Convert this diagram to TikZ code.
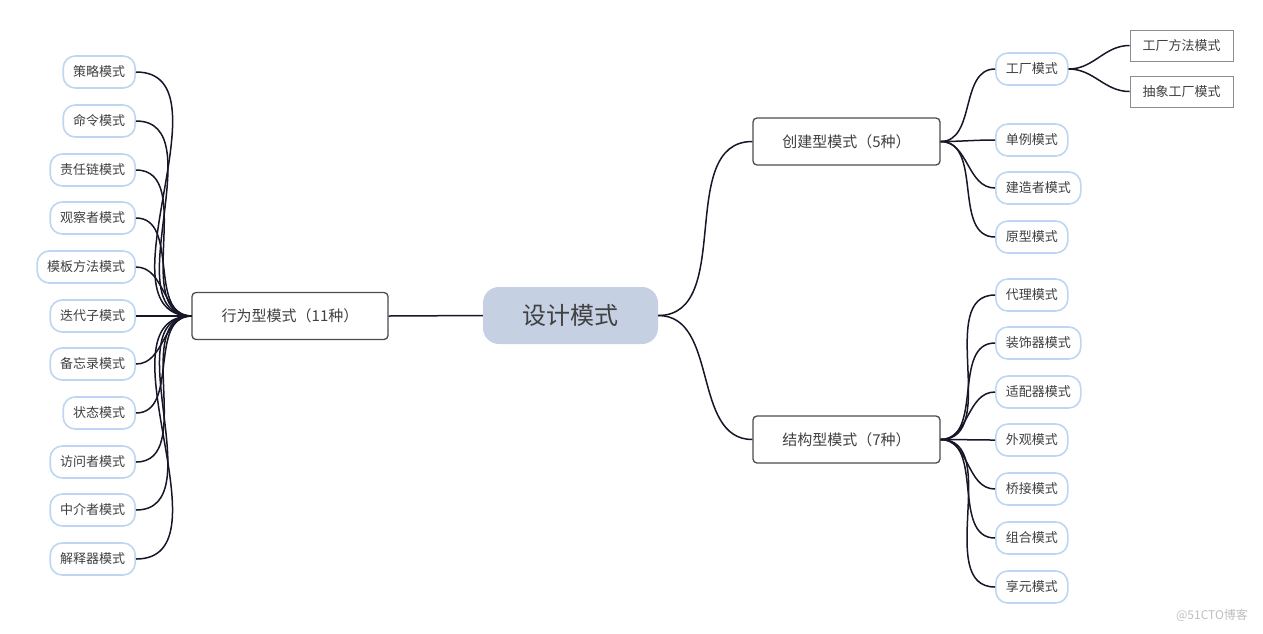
\documentclass[tikz,border=0pt]{standalone}
\usepackage{fontspec}
\setmainfont{Noto Sans CJK SC}
\usetikzlibrary{positioning}
\definecolor{rootblue}{RGB}{197,208,227}
\definecolor{leafblue}{RGB}{190,214,242}
\definecolor{linedark}{RGB}{22,22,40}
\tikzstyle{rootnode}=[fill=rootblue, rounded corners=16pt, minimum width=175pt, minimum height=57pt, font=\fontsize{24}{24}\selectfont, text=black!75]
\tikzstyle{mainnode}=[draw=black!70, line width=1.3pt, fill=white, rounded corners=4pt, minimum height=47pt, font=\fontsize{15}{15}\selectfont, text=black!75]
\tikzstyle{leafnode}=[draw=leafblue, line width=1.6pt, fill=white, rounded corners=12pt, minimum height=32pt, inner xsep=10pt, font=\fontsize{13}{13}\selectfont, text=black!75]
\tikzstyle{subnode}=[draw=black!45, line width=0.8pt, fill=white, minimum height=31pt, minimum width=103pt, font=\fontsize{13}{13}\selectfont, text=black!75]
\tikzstyle{link}=[draw=linedark, line width=1.5pt]
\begin{document}
\begin{tikzpicture}[x=1pt,y=-1pt]
	\useasboundingbox (0,0) rectangle (1263,633);
	\node[rootnode] (root) at (570.5,315.5) {设计模式};
	\node[mainnode, minimum width=187pt] (create) at (846.5,141.5) {创建型模式（5种）};
	\node[mainnode, minimum width=187pt] (struct) at (846.5,439.5) {结构型模式（7种）};
	\node[mainnode, minimum width=196pt] (behave) at (290,316) {行为型模式（11种）};
	\draw[link] (root.east) to[out=0,in=180] (create.west);
	\draw[link] (root.east) to[out=0,in=180] (struct.west);
	\draw[link] (root.west) -- (behave.east);
	% creational
	\foreach \name/\txt/\y in {fac/工厂模式/69, sgl/单例模式/140, bld/建造者模式/188, pro/原型模式/237}{
		\node[leafnode, anchor=west] (\name) at (995,\y) {\txt};
		\draw[link] (create.east) to[out=0,in=180] (\name.west);
	}
	\node[subnode] (facm) at (1181.5,45.5) {工厂方法模式};
	\node[subnode] (absf) at (1181.5,91.5) {抽象工厂模式};
	\draw[link] (fac.east) to[out=0,in=180] (facm.west);
	\draw[link] (fac.east) to[out=0,in=180] (absf.west);
	% structural
	\foreach \name/\txt/\y in {prx/代理模式/295, dec/装饰器模式/343, adp/适配器模式/392, fcd/外观模式/440, brg/桥接模式/489, cmp/组合模式/538, fly/享元模式/587}{
		\node[leafnode, anchor=west] (\name) at (995,\y) {\txt};
		\draw[link] (struct.east) to[out=0,in=180] (\name.west);
	}
	% behavioral
	\foreach \name/\txt/\y in {stg/策略模式/72, cmd/命令模式/121, chn/责任链模式/170, obs/观察者模式/218, tpl/模板方法模式/267, itr/迭代子模式/316, mem/备忘录模式/364, sta/状态模式/413, vis/访问者模式/462, med/中介者模式/510, itp/解释器模式/559}{
		\node[leafnode, anchor=east] (\name) at (136,\y) {\txt};
		\draw[link] (behave.west) to[out=180,in=0] (\name.east);
	}
	\node[text=black!25, font=\fontsize{12}{12}\selectfont] (mark) at (1212,615) {@51CTO博客};
\end{tikzpicture}
\end{document}
